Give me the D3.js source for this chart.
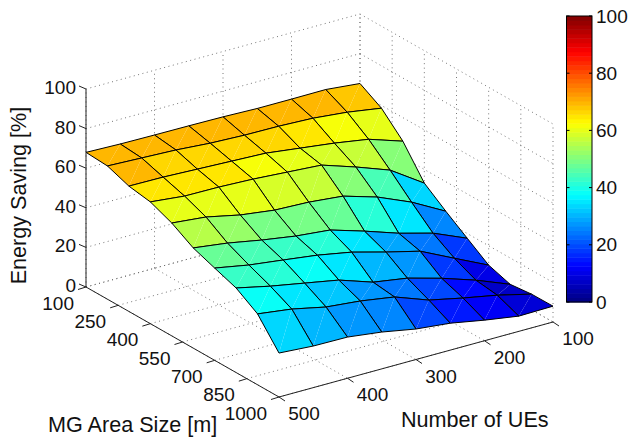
<!DOCTYPE html>
<html>
<head>
<meta charset="utf-8">
<script src="https://cdn.jsdelivr.net/npm/d3@7"></script>
<style>
body { margin: 0; background: #fff; }
text { font-family: "Liberation Sans", Arial, sans-serif; font-size: 19px; fill: #111; }
text.title { font-size: 21.6px; }
</style>
</head>
<body>
<script>
var ueCounts = [500, 450, 400, 350, 300, 250, 200, 150, 100];
var areaSizes = [100, 200, 300, 400, 500, 600, 700, 800, 900, 1000];

// surface height, one row per MG area size, same order as ueCounts
var area100 = [68.0, 67.5, 67.3, 67.2, 67.0, 66.5, 66.5, 66.6, 64.9];
var area200 = [67.3, 66.6, 65.9, 64.6, 63.9, 63.7, 63.0, 61.3, 58.6];
var area300 = [63.3, 63.1, 62.4, 61.7, 61.0, 58.8, 56.6, 53.8, 48.1];
var area400 = [61.5, 59.7, 59.5, 58.8, 57.6, 56.4, 50.7, 44.4, 33.1];
var area500 = [57.0, 55.3, 51.6, 49.3, 48.6, 46.9, 41.7, 34.4, 25.1];
var area600 = [50.6, 48.3, 45.1, 42.4, 40.7, 35.4, 29.6, 24.9, 17.6];
var area700 = [46.6, 43.4, 41.2, 38.9, 35.7, 31.0, 26.7, 18.4, 10.2];
var area800 = [42.7, 38.9, 35.7, 32.5, 26.7, 24.0, 19.2, 13.5, 6.7];
var area900 = [35.8, 33.5, 29.8, 28.1, 25.4, 19.1, 15.4, 12.1, 7.9];
var area1000 = [22.2, 21.0, 20.8, 18.6, 15.4, 13.6, 10.4, 7.7, 8.0];
var saving = [area100, area200, area300, area400, area500, area600, area700, area800, area900, area1000];

// colour level of each cell (8 cells per row, 9 rows)
var cells100 = [70, 70, 70, 70, 70, 70, 70, 68];
var cells200 = [70, 67, 67, 67, 66, 65, 62, 60];
var cells300 = [65, 65, 65, 62, 60, 58, 57, 51];
var cells400 = [60, 60, 60, 59, 57, 51, 44, 34];
var cells500 = [55.3, 51.6, 49.3, 48.6, 46.9, 41.7, 34.4, 25.1];
var cells600 = [48.3, 45.1, 42.4, 40.7, 35.4, 29.6, 24.9, 17.6];
var cells700 = [43.4, 41.2, 38.9, 35.7, 31.0, 26.7, 18.4, 10.2];
var cells800 = [38.9, 35.7, 32.5, 26.7, 24.0, 19.2, 13.5, 6.7];
var cells900 = [33.5, 29.8, 28.1, 25.4, 19.1, 15.4, 12.1, 7.9];
var cellLevels = [cells100, cells200, cells300, cells400, cells500, cells600, cells700, cells800, cells900];

var ueTicks = [500, 400, 300, 200, 100];
var areaTicks = [100, 250, 400, 550, 700, 850, 1000];
var zTicks = [0, 20, 40, 60, 80, 100];

var width = 628, height = 442;
var svg = d3.select("body").append("svg")
    .attr("width", width)
    .attr("height", height);

// oblique view: each data axis moves the point on screen in x and y
var x0 = 86, y0 = 287;
var xArea = d3.scaleLinear().domain([100, 1000]).range([0, 193]);
var yArea = d3.scaleLinear().domain([100, 1000]).range([0, 110]);
var xUe = d3.scaleLinear().domain([500, 100]).range([0, 274]);
var yUe = d3.scaleLinear().domain([500, 100]).range([0, -75]);
var yZ = d3.scaleLinear().domain([0, 100]).range([0, -198]);

function px(u, a) { return x0 + xArea(a) + xUe(u); }
function py(u, a, z) { return y0 + yArea(a) + yUe(u) + yZ(z); }
function pt(u, a, z) { return [px(u, a), py(u, a, z)]; }

function jet(v) {
    var r = Math.min(Math.max(Math.min(4 * v - 1.5, -4 * v + 4.5), 0), 1);
    var g = Math.min(Math.max(Math.min(4 * v - 0.5, -4 * v + 3.5), 0), 1);
    var b = Math.min(Math.max(Math.min(4 * v + 0.5, -4 * v + 2.5), 0), 1);
    return d3.rgb(r * 255, g * 255, b * 255).formatHex();
}
var nColors = 64;
var colorIdx = d3.scaleQuantize().domain([0, 100]).range(d3.range(nColors));
function zColor(z) { return jet((colorIdx(z) + 0.5) / nColors); }

var line = d3.line();

// grid on the two back walls and the floor
var grid = svg.append("g")
    .attr("fill", "none")
    .attr("stroke", "#666")
    .attr("stroke-width", 0.9)
    .attr("stroke-dasharray", "1,3.5");

function gridLine(a, b) {
    grid.append("path").attr("d", line([a, b]));
}
zTicks.forEach(function(z) {
    gridLine(pt(500, 100, z), pt(100, 100, z));
    gridLine(pt(100, 100, z), pt(100, 1000, z));
});
ueTicks.forEach(function(u) {
    gridLine(pt(u, 100, 0), pt(u, 100, 100));
    gridLine(pt(u, 100, 0), pt(u, 1000, 0));
});
areaTicks.forEach(function(a) {
    gridLine(pt(100, a, 0), pt(100, a, 100));
    gridLine(pt(500, a, 0), pt(100, a, 0));
});

// surface, back cells first
var surf = svg.append("g");
var i, j;
for (i = 0; i < areaSizes.length - 1; i++) {
    for (j = ueCounts.length - 2; j >= 0; j--) {
        var a1 = areaSizes[i], a2 = areaSizes[i + 1];
        var uHi = ueCounts[j], uLo = ueCounts[j + 1];
        var tl = pt(uHi, a1, saving[i][j]);
        var tr = pt(uLo, a1, saving[i][j + 1]);
        var br = pt(uLo, a2, saving[i + 1][j + 1]);
        var bl = pt(uHi, a2, saving[i + 1][j]);
        var col = zColor(cellLevels[i][j]);
        surf.append("path").attr("d", line([tl, tr, bl]) + "Z").attr("fill", col);
        surf.append("path").attr("d", line([tr, br, bl]) + "Z").attr("fill", col);
        surf.append("path").attr("d", line([tl, tr, br, bl]) + "Z")
            .attr("fill", "none")
            .attr("stroke", "#000")
            .attr("stroke-width", 1)
            .attr("stroke-linejoin", "round");
    }
}

// axes
var axes = svg.append("g").attr("fill", "none").attr("stroke", "#222").attr("stroke-width", 1);
axes.append("path").attr("d", line([pt(500, 100, 0), pt(500, 100, 100)]));
axes.append("path").attr("d", line([pt(500, 100, 0), pt(500, 1000, 0)]));
axes.append("path").attr("d", line([pt(500, 1000, 0), pt(100, 1000, 0)]));

zTicks.forEach(function(z) {
    var p = pt(500, 100, z);
    axes.append("path").attr("d", line([p, [p[0] - 7, p[1] - 3]]));
    svg.append("text").text(z)
        .attr("x", p[0] - 10)
        .attr("y", p[1] + 5)
        .attr("text-anchor", "end");
});
areaTicks.forEach(function(a) {
    var p = pt(500, a, 0);
    axes.append("path").attr("d", line([p, [p[0] - 8, p[1] + 2.5]]));
    svg.append("text").text(a)
        .attr("x", p[0] - 12)
        .attr("y", p[1] + 22.5)
        .attr("text-anchor", "end");
});
ueTicks.forEach(function(u) {
    var p = pt(u, 1000, 0);
    axes.append("path").attr("d", line([p, [p[0] + 6, p[1] + 4]]));
    svg.append("text").text(u)
        .attr("x", p[0] + 25)
        .attr("y", p[1] + 23)
        .attr("text-anchor", "middle");
});

svg.append("text").text("Energy Saving [%]")
    .attr("class", "title")
    .attr("text-anchor", "middle")
    .attr("transform", "translate(26,195.5) rotate(-90)");
svg.append("text").text("MG Area Size [m]")
    .attr("class", "title")
    .attr("x", 48).attr("y", 432);
svg.append("text").text("Number of UEs")
    .attr("class", "title")
    .attr("x", 401).attr("y", 427);

// colorbar
var cbX = 566.5, cbW = 25.5;
var cbY = d3.scaleLinear().domain([0, 100]).range([302, 16]);
var bands = d3.range(nColors);
svg.append("g").selectAll("rect").data(bands).enter().append("rect")
    .attr("x", cbX)
    .attr("width", cbW)
    .attr("y", function(d) { return cbY((d + 1) / nColors * 100); })
    .attr("height", function(d) { return cbY(d / nColors * 100) - cbY((d + 1) / nColors * 100) + 0.5; })
    .attr("fill", function(d) { return jet((d + 0.5) / nColors); });
svg.append("rect")
    .attr("x", cbX).attr("y", cbY(100))
    .attr("width", cbW).attr("height", cbY(0) - cbY(100))
    .attr("fill", "none").attr("stroke", "#000").attr("stroke-width", 1);
zTicks.forEach(function(z) {
    var y = cbY(z);
    svg.append("path").attr("d", line([[cbX, y], [cbX + 3, y]])).attr("stroke", "#000");
    svg.append("path").attr("d", line([[cbX + cbW - 3, y], [cbX + cbW, y]])).attr("stroke", "#000");
    svg.append("text").text(z)
        .attr("x", cbX + cbW + 4)
        .attr("y", y + 6.5);
});
</script>
</body>
</html>
